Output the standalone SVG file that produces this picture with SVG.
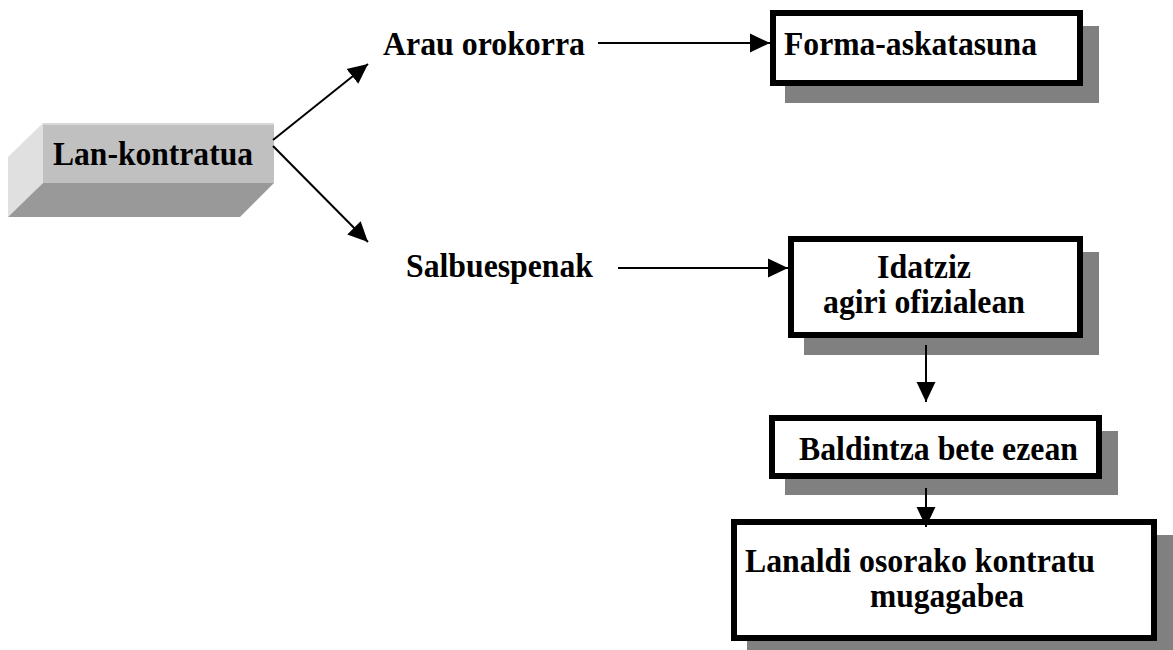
<svg xmlns="http://www.w3.org/2000/svg" width="1173" height="650" viewBox="0 0 1173 650">
<defs>
<style>
.t{font-family:"Liberation Serif","Times New Roman",serif;font-weight:bold;font-size:34px;fill:#000}
.box{fill:#fff;stroke:#000;stroke-width:6}
.sh{fill:#808080}
.c{stroke:#000;stroke-width:2;fill:none}
</style>
<marker id="ah" markerUnits="userSpaceOnUse" markerWidth="20" markerHeight="20" viewBox="0 0 18 17" refX="18" refY="8.5" orient="auto">
<path d="M0,0 L18,8.5 L0,17 Z" fill="#000"/>
</marker>
</defs>
<rect width="1173" height="650" fill="#fff"/>
<g id="lan-kontratua">
<polygon points="43,123 43,183 8,217 8,157" fill="#e0e0e0"/>
<polygon points="43,183 274,183 240,217 8,217" fill="#999999"/>
<rect x="43" y="123" width="231" height="60" fill="#c0c0c0"/>
<line x1="43" y1="124" x2="274" y2="124" stroke="#d8d8d8" stroke-width="2"/>
<text class="t" x="53" y="165" textLength="200" lengthAdjust="spacingAndGlyphs">Lan-kontratua</text>
</g>
<g id="arau-orokorra">
<text class="t" x="383" y="55" textLength="202" lengthAdjust="spacingAndGlyphs">Arau orokorra</text>
</g>
<g id="salbuespenak">
<text class="t" x="406" y="277" textLength="187" lengthAdjust="spacingAndGlyphs">Salbuespenak</text>
</g>
<g id="forma-askatasuna">
<rect class="sh" x="785" y="26" width="314" height="77"/>
<rect class="box" x="773" y="13" width="307" height="70"/>
<text class="t" x="784" y="55" textLength="253" lengthAdjust="spacingAndGlyphs">Forma-askatasuna</text>
</g>
<g id="idatziz">
<rect class="sh" x="804" y="252" width="295" height="103"/>
<rect class="box" x="791" y="239" width="289" height="96"/>
<text class="t" x="877" y="278" textLength="94" lengthAdjust="spacingAndGlyphs">Idatziz</text>
<text class="t" x="823" y="313" textLength="202" lengthAdjust="spacingAndGlyphs">agiri ofizialean</text>
</g>
<g id="baldintza">
<rect class="sh" x="785" y="431" width="333" height="64"/>
<rect class="box" x="772" y="418" width="327" height="58"/>
<text class="t" x="799" y="460" textLength="279" lengthAdjust="spacingAndGlyphs">Baldintza bete ezean</text>
</g>
<g id="lanaldi">
<rect class="sh" x="747" y="535" width="426" height="122"/>
<rect class="box" x="734" y="522" width="420" height="116"/>
<text class="t" x="745" y="572" textLength="350" lengthAdjust="spacingAndGlyphs">Lanaldi osorako kontratu</text>
<text class="t" x="870" y="607" textLength="154" lengthAdjust="spacingAndGlyphs">mugagabea</text>
</g>
<g id="connectors">
<line class="c" x1="273" y1="140" x2="368" y2="64" marker-end="url(#ah)"/>
<line class="c" x1="273" y1="146" x2="368" y2="242" marker-end="url(#ah)"/>
<line class="c" x1="598" y1="43" x2="770" y2="43" marker-end="url(#ah)"/>
<line class="c" x1="618" y1="268" x2="788" y2="268" marker-end="url(#ah)"/>
<line class="c" x1="926" y1="345" x2="926" y2="402" marker-end="url(#ah)"/>
<line class="c" x1="926" y1="488" x2="926" y2="527" marker-end="url(#ah)"/>
</g>
</svg>
